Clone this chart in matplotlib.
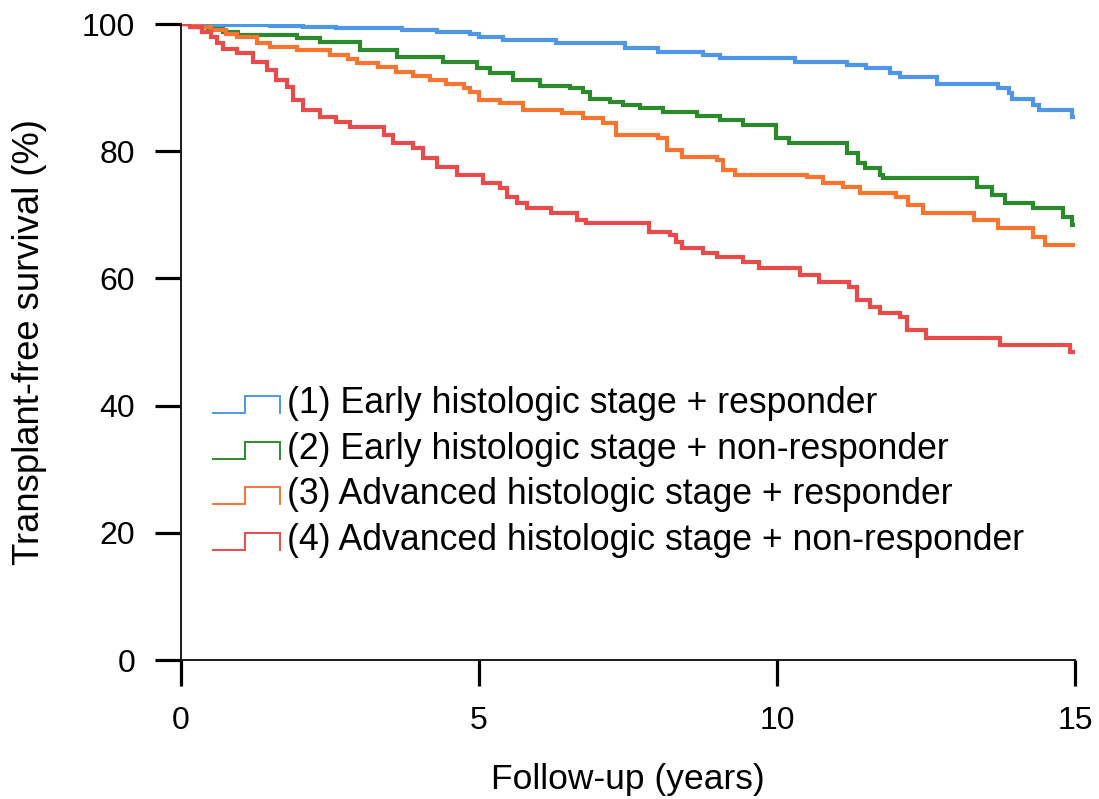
import matplotlib
matplotlib.use("Agg")
import matplotlib.pyplot as plt
from matplotlib.lines import Line2D
from matplotlib.legend_handler import HandlerBase

plt.rcParams['font.family'] = ['Liberation Sans', 'DejaVu Sans']

# Kaplan-Meier step data: event times (years) and transplant-free survival (%)
t_early_resp = [0, 0.3, 0.9, 1.5, 2.05, 2.6, 3.2, 3.7, 4.3, 4.85, 5.0, 5.4, 6.3, 7.45, 8.0,
                8.75, 9.05, 10.3, 11.17, 11.5, 11.9, 12.06, 12.68, 13.7, 13.9, 13.95, 14.3,
                14.4, 14.95, 15.0]
s_early_resp = [100, 99.9, 99.8, 99.7, 99.5, 99.4, 99.3, 99.1, 98.8, 98.5, 98.0, 97.5, 97.0,
                96.2, 95.6, 95.1, 94.6, 94.0, 93.6, 93.1, 92.3, 91.7, 90.6, 89.9, 89.1, 88.2,
                87.3, 86.5, 85.4, 85.4]

t_early_nonresp = [0, 0.2, 0.45, 0.7, 0.95, 1.95, 2.33, 3.0, 3.62, 4.4, 4.97, 5.18, 5.57,
                   6.02, 6.53, 6.75, 6.86, 7.2, 7.42, 7.7, 8.09, 8.66, 9.05, 9.43, 9.98, 10.2,
                   11.17, 11.36, 11.48, 11.73, 11.78, 13.36, 13.6, 13.83, 14.3, 14.8, 14.95, 15.0]
s_early_nonresp = [100, 99.6, 99.2, 98.8, 98.3, 97.8, 97.2, 95.9, 94.8, 94.0, 93.1, 92.3, 91.2,
                   90.3, 89.9, 89.3, 88.2, 87.8, 87.3, 86.8, 86.2, 85.5, 84.9, 84.1, 82.1, 81.3,
                   79.7, 78.1, 77.4, 76.3, 75.8, 74.4, 73.1, 71.9, 71.1, 69.7, 68.4, 68.4]

t_adv_resp = [0, 0.3, 0.5, 0.75, 0.94, 1.27, 1.5, 1.95, 2.5, 2.8, 2.95, 3.3, 3.6, 3.9, 4.18,
              4.45, 4.74, 4.85, 5.0, 5.35, 5.74, 6.4, 6.75, 7.08, 7.3, 8.0, 8.15, 8.4, 9.0,
              9.1, 9.3, 10.5, 10.77, 11.1, 11.4, 12.0, 12.2, 12.45, 13.3, 13.7, 14.3, 14.5, 15.0]
s_adv_resp = [100, 99.5, 99.1, 98.5, 97.9, 97.0, 96.4, 95.9, 95.1, 94.5, 93.9, 93.2, 92.5, 91.9,
              91.2, 90.5, 89.9, 89.3, 88.0, 87.6, 86.5, 86.0, 85.2, 84.4, 82.5, 82.1, 80.2,
              79.1, 78.6, 77.0, 76.3, 75.9, 75.0, 74.4, 73.4, 72.8, 71.5, 70.3, 69.2, 67.9,
              66.5, 65.3, 65.3]

t_adv_nonresp = [0, 0.15, 0.35, 0.5, 0.6, 0.7, 0.94, 1.2, 1.44, 1.6, 1.78, 1.88, 2.05, 2.33,
                 2.6, 2.84, 3.4, 3.56, 3.9, 4.06, 4.3, 4.63, 5.07, 5.35, 5.47, 5.64, 5.8, 6.2,
                 6.64, 6.8, 7.85, 8.2, 8.3, 8.4, 8.76, 9.0, 9.43, 9.7, 10.39, 10.7, 11.2, 11.35,
                 11.56, 11.73, 12.06, 12.18, 12.5, 13.74, 14.92, 15.0]
s_adv_nonresp = [100, 99.5, 98.8, 98.0, 97.0, 96.0, 95.4, 94.0, 92.8, 91.2, 90.1, 88.0, 86.5,
                 85.4, 84.6, 83.8, 82.5, 81.3, 80.5, 78.9, 77.5, 76.3, 75.0, 74.2, 72.8, 71.9,
                 71.1, 70.3, 69.2, 68.7, 67.3, 66.8, 65.8, 64.8, 64.0, 63.4, 62.6, 61.6, 60.5,
                 59.5, 58.6, 56.6, 55.5, 54.6, 53.9, 51.9, 50.6, 49.5, 48.4, 48.4]

group_labels = [
    "(1) Early histologic stage + responder",
    "(2) Early histologic stage + non-responder",
    "(3) Advanced histologic stage + responder",
    "(4) Advanced histologic stage + non-responder",
]
group_colors = ["#5096e6", "#2b8a2b", "#f7752f", "#e94b4b"]
x_ticks = [0, 5, 10, 15]
y_ticks = [0, 20, 40, 60, 80, 100]

series = [
    (t_early_resp, s_early_resp),
    (t_early_nonresp, s_early_nonresp),
    (t_adv_resp, s_adv_resp),
    (t_adv_nonresp, s_adv_nonresp),
]


class StepGlyphHandler(HandlerBase):
    """Legend key drawn as a small survival-step outline."""

    def create_artists(self, legend, orig_handle, xdescent, ydescent,
                       width, height, fontsize, trans):
        x0 = -xdescent
        xm = x0 + 0.48 * width
        x1 = x0 + width
        lo = 0.0
        hi = 0.48 * fontsize
        glyph = Line2D([x0, xm, xm, x1, x1], [lo, lo, hi, hi, lo],
                       color=orig_handle.get_color(), lw=1.4,
                       solid_joinstyle='miter', transform=trans)
        return [glyph]


fig = plt.figure(figsize=(10.99, 7.99), dpi=100)
ax = fig.add_axes([181 / 1099, 139 / 799, 894 / 1099, 636 / 799])

handles = []
for (t, s), color, label in zip(series, group_colors, group_labels):
    line, = ax.step(t, s, where='post', color=color, lw=3.0, label=label,
                    solid_joinstyle='miter')
    handles.append(line)

ax.set_xlim(0, 15)
ax.set_ylim(0, 100)
ax.set_xticks(x_ticks)
ax.set_yticks(y_ticks)
ax.set_xticklabels([str(v) for v in x_ticks])
ax.set_yticklabels([str(v) for v in y_ticks])

for side in ("top", "right"):
    ax.spines[side].set_visible(False)
for side in ("left", "bottom"):
    ax.spines[side].set_linewidth(1.4)
    ax.spines[side].set_color("#1a1a1a")

ax.tick_params(axis='both', direction='out', length=19, width=2.3, color='black',
               labelsize=23, pad=14)

ax.set_xlabel("Follow-up (years)", fontsize=25.5)
ax.set_ylabel("Transplant-free survival (%)", fontsize=26.2)
ax.xaxis.set_label_coords(0.5, -0.162)
ax.yaxis.set_label_coords(-0.150, 0.5)

leg = ax.legend(handles=handles, labels=group_labels,
                handler_map={Line2D: StepGlyphHandler()},
                loc='upper left', frameon=False, fontsize=25.7,
                handlelength=1.88, handletextpad=0.18, labelspacing=0.30,
                borderpad=0, borderaxespad=0)
leg.set_bbox_to_anchor((213 / 1099, (799 - 386) / 799), transform=fig.transFigure)

fig.savefig("out.png", dpi=100)
